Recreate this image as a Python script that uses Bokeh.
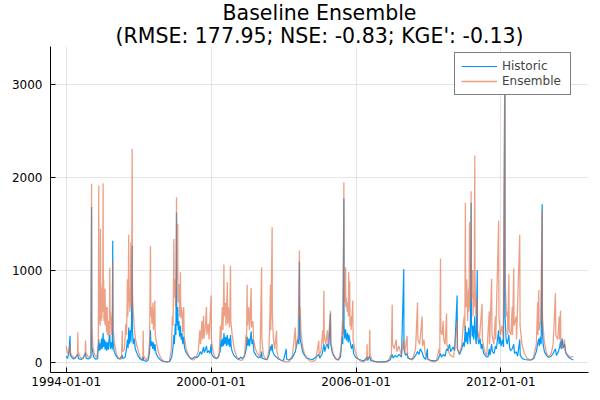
import pandas as pd

from bokeh.plotting import figure
from bokeh.models import FixedTicker, DatetimeTickFormatter, Legend, LegendItem, Range1d, Title
from bokeh.embed import file_html
from bokeh.resources import INLINE


# Streamflow (date, value), vertices at peaks and troughs
historic = [
    ("1994-01-01", 70), ("1994-01-20", 45), ("1994-02-10", 110), ("1994-02-28", 290), ("1994-03-04", 80),
    ("1994-03-25", 60), ("1994-04-20", 40), ("1994-05-20", 55), ("1994-06-25", 90), ("1994-07-05", 45),
    ("1994-08-15", 35), ("1994-09-15", 50), ("1994-10-20", 110), ("1994-10-28", 50), ("1994-12-01", 40),
    ("1995-01-10", 60), ("1995-01-19", 1680), ("1995-01-22", 180), ("1995-02-15", 70), ("1995-03-20", 40),
    ("1995-04-20", 45), ("1995-05-08", 250), ("1995-05-15", 130), ("1995-05-28", 210), ("1995-06-05", 140),
    ("1995-06-18", 260), ("1995-06-28", 150), ("1995-07-13", 320), ("1995-07-20", 170), ("1995-08-02", 250),
    ("1995-08-12", 140), ("1995-08-25", 230), ("1995-09-05", 130), ("1995-09-18", 220), ("1995-09-30", 140),
    ("1995-10-10", 250), ("1995-10-22", 300), ("1995-10-30", 150), ("1995-11-15", 220), ("1995-11-28", 140),
    ("1995-12-05", 1315), ("1995-12-08", 250), ("1995-12-25", 130), ("1996-01-20", 80), ("1996-02-20", 50),
    ("1996-03-20", 40), ("1996-04-27", 80), ("1996-05-05", 45), ("1996-06-10", 60), ("1996-07-01", 150),
    ("1996-07-15", 250), ("1996-07-25", 160), ("1996-08-03", 380), ("1996-08-10", 200), ("1996-08-25", 350),
    ("1996-09-05", 220), ("1996-09-15", 450), ("1996-09-24", 1260), ("1996-09-28", 350), ("1996-10-10", 200),
    ("1996-10-25", 260), ("1996-11-10", 150), ("1996-12-01", 110), ("1996-12-25", 70), ("1997-01-25", 40),
    ("1997-03-01", 25), ("1997-03-10", 60), ("1997-03-20", 25), ("1997-04-25", 15), ("1997-05-25", 30),
    ("1997-06-15", 120), ("1997-06-28", 350), ("1997-07-05", 180), ("1997-07-20", 230), ("1997-08-01", 150),
    ("1997-08-12", 220), ("1997-08-25", 130), ("1997-09-05", 200), ("1997-09-20", 100), ("1997-10-20", 60),
    ("1997-11-25", 30), ("1998-01-10", 15), ("1998-03-01", 10), ("1998-04-15", 15), ("1998-05-15", 60),
    ("1998-06-01", 150), ("1998-06-17", 300), ("1998-06-25", 200), ("1998-07-08", 420), ("1998-07-18", 300),
    ("1998-07-27", 1620), ("1998-07-30", 550), ("1998-08-08", 400), ("1998-08-14", 600), ("1998-08-22", 350),
    ("1998-09-01", 450), ("1998-09-12", 280), ("1998-09-24", 400), ("1998-10-05", 250), ("1998-10-18", 320),
    ("1998-10-30", 200), ("1998-11-13", 280), ("1998-11-25", 160), ("1998-12-20", 110), ("1999-01-25", 70),
    ("1999-03-01", 45), ("1999-04-05", 50), ("1999-05-01", 65), ("1999-06-01", 55), ("1999-07-01", 80),
    ("1999-07-20", 120), ("1999-08-10", 90), ("1999-09-09", 170), ("1999-09-20", 110), ("1999-10-10", 150),
    ("1999-10-23", 180), ("1999-11-05", 110), ("1999-11-25", 130), ("1999-12-15", 100), ("2000-01-01", 200),
    ("2000-01-10", 90), ("2000-02-10", 60), ("2000-03-15", 45), ("2000-04-15", 60), ("2000-05-15", 120),
    ("2000-06-01", 250), ("2000-06-12", 170), ("2000-06-25", 260), ("2000-07-05", 180), ("2000-07-13", 320),
    ("2000-07-25", 200), ("2000-08-08", 280), ("2000-08-20", 180), ("2000-09-02", 300), ("2000-09-15", 190),
    ("2000-09-28", 260), ("2000-10-10", 170), ("2000-10-20", 300), ("2000-11-01", 160), ("2000-11-20", 110),
    ("2000-12-20", 70), ("2001-01-20", 50), ("2001-02-20", 35), ("2001-03-25", 60), ("2001-04-20", 45),
    ("2001-05-20", 70), ("2001-06-15", 150), ("2001-06-29", 280), ("2001-07-10", 180), ("2001-07-25", 260),
    ("2001-08-05", 180), ("2001-08-29", 340), ("2001-09-10", 200), ("2001-09-25", 250), ("2001-10-10", 120),
    ("2001-11-10", 80), ("2001-12-15", 55), ("2002-01-20", 60), ("2002-02-03", 120), ("2002-02-10", 50),
    ("2002-03-15", 40), ("2002-04-20", 35), ("2002-05-25", 80), ("2002-06-17", 180), ("2002-06-25", 130),
    ("2002-07-12", 200), ("2002-07-22", 120), ("2002-08-15", 80), ("2002-09-17", 60), ("2002-10-15", 40),
    ("2002-11-20", 30), ("2003-01-01", 25), ("2003-02-10", 150), ("2003-02-16", 40), ("2003-03-20", 30),
    ("2003-05-10", 50), ("2003-06-28", 120), ("2003-07-15", 180), ("2003-08-05", 250), ("2003-08-20", 200),
    ("2003-08-29", 1090), ("2003-09-01", 530), ("2003-09-10", 250), ("2003-09-25", 200), ("2003-10-15", 120),
    ("2003-11-15", 80), ("2003-12-20", 50), ("2004-02-01", 40), ("2004-03-15", 35), ("2004-05-01", 60),
    ("2004-06-17", 90), ("2004-07-01", 50), ("2004-08-10", 100), ("2004-09-02", 200), ("2004-09-15", 120),
    ("2004-10-05", 180), ("2004-10-25", 200), ("2004-11-10", 150), ("2004-11-25", 300), ("2004-12-10", 530),
    ("2004-12-15", 200), ("2005-01-10", 100), ("2005-02-20", 50), ("2005-04-01", 30), ("2005-05-10", 60),
    ("2005-06-05", 280), ("2005-06-15", 200), ("2005-07-01", 1770), ("2005-07-04", 380), ("2005-07-15", 260),
    ("2005-07-27", 360), ("2005-08-10", 240), ("2005-08-25", 320), ("2005-09-05", 220), ("2005-09-15", 300),
    ("2005-09-27", 250), ("2005-10-10", 200), ("2005-10-25", 150), ("2005-11-13", 200), ("2005-11-25", 100),
    ("2005-12-25", 60), ("2006-02-01", 40), ("2006-03-15", 30), ("2006-05-01", 20), ("2006-06-17", 60),
    ("2006-06-25", 25), ("2006-07-27", 70), ("2006-08-10", 25), ("2006-10-01", 15), ("2006-12-01", 10),
    ("2007-02-01", 10), ("2007-04-01", 15), ("2007-06-01", 30), ("2007-07-02", 90), ("2007-07-15", 50),
    ("2007-08-15", 80), ("2007-09-10", 60), ("2007-10-15", 90), ("2007-11-20", 60), ("2007-12-24", 1010),
    ("2007-12-27", 150), ("2008-01-20", 80), ("2008-02-13", 100), ("2008-02-25", 50), ("2008-04-01", 40),
    ("2008-05-15", 45), ("2008-06-20", 80), ("2008-07-19", 120), ("2008-08-10", 90), ("2008-09-01", 150),
    ("2008-09-27", 110), ("2008-10-20", 60), ("2008-11-20", 35), ("2008-12-15", 150), ("2008-12-20", 40),
    ("2009-02-01", 25), ("2009-04-01", 20), ("2009-05-20", 30), ("2009-07-02", 100), ("2009-07-15", 60),
    ("2009-08-15", 90), ("2009-09-10", 70), ("2009-10-01", 150), ("2009-10-20", 130), ("2009-11-15", 200),
    ("2009-12-01", 120), ("2010-01-10", 170), ("2010-02-01", 130), ("2010-03-10", 725), ("2010-03-14", 150),
    ("2010-04-15", 90), ("2010-05-20", 150), ("2010-06-10", 220), ("2010-06-25", 170), ("2010-07-13", 400),
    ("2010-07-20", 220), ("2010-08-05", 330), ("2010-08-15", 200), ("2010-09-01", 380), ("2010-09-13", 300),
    ("2010-09-25", 200), ("2010-10-08", 1725), ("2010-10-12", 450), ("2010-10-25", 280), ("2010-11-05", 400),
    ("2010-11-15", 250), ("2010-12-02", 500), ("2010-12-12", 270), ("2010-12-25", 200), ("2011-01-08", 1000),
    ("2011-01-12", 300), ("2011-02-01", 200), ("2011-02-20", 260), ("2011-03-10", 150), ("2011-03-22", 200),
    ("2011-04-15", 100), ("2011-05-20", 70), ("2011-06-20", 60), ("2011-07-09", 150), ("2011-07-20", 80),
    ("2011-08-14", 200), ("2011-08-25", 120), ("2011-09-20", 100), ("2011-10-10", 180), ("2011-10-25", 150),
    ("2011-11-10", 250), ("2011-11-28", 350), ("2011-12-05", 200), ("2011-12-20", 280), ("2012-01-05", 180),
    ("2012-01-25", 250), ("2012-02-10", 170), ("2012-03-01", 3310), ("2012-03-04", 500), ("2012-03-20", 250),
    ("2012-04-05", 200), ("2012-04-20", 260), ("2012-05-01", 300), ("2012-05-10", 170), ("2012-05-25", 130),
    ("2012-06-20", 150), ("2012-07-13", 200), ("2012-07-25", 100), ("2012-08-20", 120), ("2012-09-10", 70),
    ("2012-10-12", 250), ("2012-10-20", 80), ("2012-11-20", 45), ("2013-01-01", 35), ("2013-02-15", 30),
    ("2013-04-01", 30), ("2013-05-15", 50), ("2013-06-20", 120), ("2013-07-10", 200), ("2013-07-27", 260),
    ("2013-08-05", 180), ("2013-08-20", 280), ("2013-09-01", 200), ("2013-09-16", 1710), ("2013-09-19", 350),
    ("2013-10-01", 200), ("2013-10-20", 120), ("2013-11-20", 80), ("2013-12-20", 60), ("2014-02-01", 70),
    ("2014-03-01", 100), ("2014-04-05", 150), ("2014-04-20", 80), ("2014-05-20", 120), ("2014-06-10", 180),
    ("2014-06-21", 230), ("2014-07-01", 150), ("2014-07-15", 260), ("2014-08-01", 160), ("2014-08-20", 200),
    ("2014-09-10", 100), ("2014-10-20", 60), ("2014-12-01", 40), ("2014-12-31", 30),
]

ensemble = [
    ("1994-01-01", 180), ("1994-01-15", 120), ("1994-02-05", 90), ("1994-02-27", 200), ("1994-03-05", 110),
    ("1994-04-01", 70), ("1994-05-10", 50), ("1994-06-20", 90), ("1994-06-25", 330), ("1994-07-01", 120),
    ("1994-08-01", 60), ("1994-09-01", 45), ("1994-10-15", 90), ("1994-10-20", 240), ("1994-10-28", 100),
    ("1994-12-01", 60), ("1995-01-10", 80), ("1995-01-19", 1930), ("1995-01-23", 400), ("1995-02-10", 160),
    ("1995-03-10", 80), ("1995-04-10", 60), ("1995-05-01", 200), ("1995-05-08", 1910), ("1995-05-11", 700),
    ("1995-05-15", 900), ("1995-05-18", 420), ("1995-05-25", 650), ("1995-05-29", 400), ("1995-06-03", 1445),
    ("1995-06-06", 600), ("1995-06-10", 850), ("1995-06-14", 450), ("1995-06-20", 700), ("1995-06-25", 480),
    ("1995-07-01", 800), ("1995-07-05", 550), ("1995-07-13", 1935), ("1995-07-16", 700), ("1995-07-21", 900),
    ("1995-07-26", 450), ("1995-08-02", 650), ("1995-08-08", 420), ("1995-08-12", 800), ("1995-08-16", 400),
    ("1995-08-24", 600), ("1995-09-01", 550), ("1995-09-06", 330), ("1995-09-12", 600), ("1995-09-18", 300),
    ("1995-09-25", 450), ("1995-10-01", 280), ("1995-10-08", 400), ("1995-10-14", 300), ("1995-10-22", 1025),
    ("1995-10-26", 420), ("1995-11-02", 550), ("1995-11-10", 300), ("1995-11-18", 450), ("1995-11-25", 500),
    ("1995-11-30", 350), ("1995-12-05", 1100), ("1995-12-09", 380), ("1995-12-20", 300), ("1996-01-01", 200),
    ("1996-02-01", 90), ("1996-03-01", 50), ("1996-04-15", 40), ("1996-04-27", 345), ("1996-05-03", 120),
    ("1996-06-01", 150), ("1996-06-20", 420), ("1996-07-01", 300), ("1996-07-08", 550), ("1996-07-15", 900),
    ("1996-07-20", 500), ("1996-07-27", 700), ("1996-08-03", 1380), ("1996-08-08", 650), ("1996-08-14", 800),
    ("1996-08-20", 550), ("1996-08-28", 700), ("1996-09-05", 1300), ("1996-09-10", 600), ("1996-09-16", 750),
    ("1996-09-24", 2305), ("1996-09-28", 800), ("1996-10-04", 650), ("1996-10-10", 550), ("1996-10-18", 480),
    ("1996-10-25", 380), ("1996-11-15", 250), ("1996-12-15", 150), ("1997-01-20", 70), ("1997-02-20", 40),
    ("1997-03-05", 60), ("1997-03-10", 345), ("1997-03-15", 80), ("1997-04-20", 30), ("1997-05-25", 60),
    ("1997-06-15", 250), ("1997-06-28", 1255), ("1997-07-03", 500), ("1997-07-12", 600), ("1997-07-20", 420),
    ("1997-07-28", 520), ("1997-08-05", 650), ("1997-08-12", 350), ("1997-08-22", 450), ("1997-09-02", 670),
    ("1997-09-08", 300), ("1997-10-01", 200), ("1997-11-01", 100), ("1997-12-10", 40), ("1998-01-20", 15),
    ("1998-03-01", 10), ("1998-04-10", 15), ("1998-05-10", 150), ("1998-05-25", 500), ("1998-06-05", 400),
    ("1998-06-17", 1335), ("1998-06-22", 700), ("1998-06-28", 850), ("1998-07-05", 900), ("1998-07-12", 600),
    ("1998-07-20", 800), ("1998-07-27", 1785), ("1998-07-31", 900), ("1998-08-06", 1000), ("1998-08-14", 1500),
    ("1998-08-18", 700), ("1998-08-26", 650), ("1998-09-05", 850), ("1998-09-12", 500), ("1998-09-18", 700),
    ("1998-09-24", 975), ("1998-09-30", 480), ("1998-10-08", 600), ("1998-10-20", 550), ("1998-10-28", 330),
    ("1998-11-05", 450), ("1998-11-13", 600), ("1998-11-20", 280), ("1998-12-20", 150), ("1999-01-25", 80),
    ("1999-03-01", 40), ("1999-04-10", 30), ("1999-05-20", 60), ("1999-06-20", 120), ("1999-07-15", 350),
    ("1999-07-25", 200), ("1999-08-15", 450), ("1999-08-22", 250), ("1999-09-09", 505), ("1999-09-15", 260),
    ("1999-10-05", 380), ("1999-10-23", 600), ("1999-10-28", 300), ("1999-11-20", 420), ("1999-12-01", 250),
    ("2000-01-01", 725), ("2000-01-06", 250), ("2000-02-01", 120), ("2000-03-01", 60), ("2000-04-01", 40),
    ("2000-05-01", 80), ("2000-05-20", 400), ("2000-06-01", 250), ("2000-06-12", 500), ("2000-06-20", 600),
    ("2000-06-28", 350), ("2000-07-06", 550), ("2000-07-13", 1060), ("2000-07-18", 500), ("2000-07-26", 600),
    ("2000-08-05", 650), ("2000-08-12", 400), ("2000-08-22", 550), ("2000-09-02", 870), ("2000-09-08", 420),
    ("2000-09-16", 600), ("2000-09-25", 550), ("2000-10-05", 380), ("2000-10-12", 600), ("2000-10-20", 1045),
    ("2000-10-25", 450), ("2000-11-15", 300), ("2000-12-15", 150), ("2001-01-20", 70), ("2001-02-20", 40),
    ("2001-03-20", 25), ("2001-04-20", 30), ("2001-05-20", 80), ("2001-06-10", 300), ("2001-06-20", 200),
    ("2001-06-29", 840), ("2001-07-04", 400), ("2001-07-14", 500), ("2001-07-25", 600), ("2001-08-02", 350),
    ("2001-08-14", 500), ("2001-08-29", 805), ("2001-09-03", 380), ("2001-09-25", 450), ("2001-10-05", 250),
    ("2001-11-01", 150), ("2001-12-01", 100), ("2002-01-10", 60), ("2002-02-03", 1030), ("2002-02-07", 250),
    ("2002-03-01", 90), ("2002-04-01", 40), ("2002-05-01", 30), ("2002-05-25", 150), ("2002-06-05", 400),
    ("2002-06-17", 840), ("2002-06-22", 350), ("2002-07-12", 1460), ("2002-07-16", 500), ("2002-08-01", 250),
    ("2002-08-20", 150), ("2002-09-17", 345), ("2002-09-22", 120), ("2002-10-20", 50), ("2002-11-20", 25),
    ("2003-01-01", 15), ("2003-02-15", 10), ("2003-04-01", 15), ("2003-05-15", 80), ("2003-06-28", 380),
    ("2003-07-05", 150), ("2003-08-10", 300), ("2003-08-29", 1210), ("2003-09-03", 500), ("2003-09-10", 600),
    ("2003-09-20", 350), ("2003-10-10", 200), ("2003-11-10", 100), ("2003-12-20", 50), ("2004-02-01", 20),
    ("2004-03-20", 15), ("2004-05-01", 30), ("2004-06-17", 237), ("2004-06-22", 80), ("2004-07-20", 120),
    ("2004-08-15", 350), ("2004-08-25", 200), ("2004-09-02", 777), ("2004-09-07", 300), ("2004-10-01", 200),
    ("2004-10-25", 350), ("2004-11-05", 180), ("2004-12-10", 560), ("2004-12-15", 220), ("2005-01-20", 100),
    ("2005-03-01", 40), ("2005-04-15", 30), ("2005-05-20", 150), ("2005-06-10", 450), ("2005-06-20", 300),
    ("2005-07-01", 1945), ("2005-07-05", 800), ("2005-07-12", 650), ("2005-07-19", 750), ("2005-07-27", 1030),
    ("2005-08-01", 600), ("2005-08-08", 700), ("2005-08-20", 550), ("2005-08-30", 650), ("2005-09-06", 500),
    ("2005-09-13", 975), ("2005-09-17", 500), ("2005-09-27", 880), ("2005-10-02", 400), ("2005-10-10", 500),
    ("2005-10-20", 350), ("2005-11-13", 670), ("2005-11-18", 250), ("2005-12-20", 120), ("2006-01-25", 50),
    ("2006-03-01", 20), ("2006-04-15", 10), ("2006-06-10", 30), ("2006-06-17", 200), ("2006-06-22", 40),
    ("2006-07-20", 60), ("2006-07-27", 355), ("2006-08-02", 80), ("2006-09-01", 30), ("2006-11-01", 10),
    ("2007-01-01", 5), ("2007-03-01", 5), ("2007-05-01", 15), ("2007-06-20", 100), ("2007-07-02", 625),
    ("2007-07-07", 200), ("2007-08-01", 150), ("2007-09-01", 250), ("2007-09-10", 120), ("2007-10-15", 180),
    ("2007-11-15", 80), ("2007-12-24", 250), ("2008-01-05", 100), ("2008-02-13", 290), ("2008-02-18", 80),
    ("2008-03-20", 40), ("2008-05-01", 30), ("2008-06-20", 150), ("2008-07-19", 650), ("2008-07-24", 250),
    ("2008-08-20", 200), ("2008-09-27", 500), ("2008-10-02", 180), ("2008-10-25", 250), ("2008-11-10", 100),
    ("2008-12-20", 40), ("2009-02-01", 20), ("2009-03-20", 10), ("2009-05-01", 20), ("2009-06-10", 150),
    ("2009-06-20", 80), ("2009-07-02", 1125), ("2009-07-06", 350), ("2009-07-25", 300), ("2009-08-10", 450),
    ("2009-08-20", 250), ("2009-09-10", 200), ("2009-10-01", 530), ("2009-10-06", 200), ("2009-11-01", 120),
    ("2009-12-01", 80), ("2010-01-15", 60), ("2010-03-10", 450), ("2010-03-15", 150), ("2010-04-20", 100),
    ("2010-05-20", 200), ("2010-06-10", 400), ("2010-06-25", 500), ("2010-07-05", 350), ("2010-07-13", 1725),
    ("2010-07-17", 700), ("2010-07-26", 600), ("2010-08-03", 900), ("2010-08-10", 700), ("2010-08-15", 450),
    ("2010-08-23", 650), ("2010-09-01", 800), ("2010-09-06", 550), ("2010-09-13", 1515), ("2010-09-17", 600),
    ("2010-09-26", 900), ("2010-10-02", 650), ("2010-10-08", 1850), ("2010-10-12", 800), ("2010-10-20", 700),
    ("2010-11-01", 1000), ("2010-11-06", 500), ("2010-11-15", 750), ("2010-11-24", 600), ("2010-12-02", 2235),
    ("2010-12-06", 900), ("2010-12-20", 500), ("2011-01-08", 700), ("2011-01-12", 350), ("2011-02-10", 250),
    ("2011-03-22", 635), ("2011-03-27", 250), ("2011-04-30", 120), ("2011-06-01", 80), ("2011-07-09", 555),
    ("2011-07-14", 200), ("2011-08-14", 905), ("2011-08-19", 300), ("2011-09-15", 200), ("2011-10-10", 500),
    ("2011-10-15", 250), ("2011-11-28", 1530), ("2011-12-02", 500), ("2011-12-25", 300), ("2012-01-20", 400),
    ("2012-02-05", 250), ("2012-03-01", 3250), ("2012-03-05", 900), ("2012-03-25", 500), ("2012-04-10", 550),
    ("2012-04-15", 300), ("2012-05-01", 955), ("2012-05-06", 350), ("2012-06-01", 300), ("2012-06-20", 600),
    ("2012-06-25", 300), ("2012-07-13", 1020), ("2012-07-18", 400), ("2012-08-20", 500), ("2012-08-25", 250),
    ("2012-10-12", 1380), ("2012-10-17", 400), ("2012-11-15", 200), ("2012-12-20", 100), ("2013-02-01", 50),
    ("2013-03-15", 30), ("2013-05-01", 40), ("2013-06-20", 200), ("2013-07-10", 650), ("2013-07-15", 300),
    ("2013-07-27", 785), ("2013-08-01", 350), ("2013-08-25", 450), ("2013-09-16", 1650), ("2013-09-20", 500),
    ("2013-10-15", 250), ("2013-11-15", 120), ("2013-12-20", 60), ("2014-02-01", 100), ("2014-03-01", 200),
    ("2014-04-05", 750), ("2014-04-10", 300), ("2014-05-10", 250), ("2014-06-01", 500), ("2014-06-08", 250),
    ("2014-06-21", 560), ("2014-06-26", 200), ("2014-07-20", 150), ("2014-08-20", 250), ("2014-09-01", 120),
    ("2014-10-15", 80), ("2014-11-20", 60), ("2014-12-31", 70),
]

x_ticks = ["1994-01-01", "2000-01-01", "2006-01-01", "2012-01-01"]
y_ticks = [0, 1000, 2000, 3000]

title_lines = ["Baseline Ensemble", "(RMSE: 177.95; NSE: -0.83; KGE': -0.13)"]

FONT = "DejaVu Sans"

hist_df = pd.DataFrame(historic, columns=["date", "q"])
hist_df["date"] = pd.to_datetime(hist_df["date"])
ens_df = pd.DataFrame(ensemble, columns=["date", "q"])
ens_df["date"] = pd.to_datetime(ens_df["date"])

p = figure(
    width=600, height=400,
    x_axis_type="datetime",
    x_range=Range1d(pd.Timestamp("1993-05-08"), pd.Timestamp("2015-08-18")),
    y_range=Range1d(-105, 3410),
    output_backend="svg",
    toolbar_location=None,
    title=None,
    min_border_left=50, min_border_right=12, min_border_bottom=28, min_border_top=0,
)

# two centred title lines, the later one added sits higher
for line in reversed(title_lines):
    p.add_layout(Title(text=line, align="center", text_font=FONT, text_font_size="20.5px",
                       text_font_style="normal", text_color="black",
                       standoff=-3, offset=0), "above")

r_hist = p.line(hist_df["date"], hist_df["q"], line_color="#009AFA", line_width=1.2)
r_ens = p.line(ens_df["date"], ens_df["q"], line_color="#E26F46", line_width=1.3, line_alpha=0.65)

# axes: only left and bottom, ticks pointing inwards
p.xaxis.ticker = FixedTicker(ticks=[pd.Timestamp(t).value / 1e6 for t in x_ticks])
p.xaxis.formatter = DatetimeTickFormatter(years="%Y-%m-%d", months="%Y-%m-%d", days="%Y-%m-%d")
p.yaxis.ticker = FixedTicker(ticks=y_ticks)

for ax in (p.xaxis, p.yaxis):
    ax.major_tick_in = 5
    ax.major_tick_out = 0
    ax.minor_tick_line_color = None
    ax.axis_line_color = "black"
    ax.major_tick_line_color = "black"
    ax.major_label_text_font = FONT
    ax.major_label_text_font_size = "12px"
    ax.major_label_text_color = "black"
p.yaxis.major_label_standoff = 8
p.xaxis.major_label_standoff = 4

p.grid.grid_line_color = "black"
p.grid.grid_line_alpha = 0.1
p.outline_line_color = None
p.background_fill_color = "white"
p.border_fill_color = "white"

legend = Legend(
    items=[LegendItem(label="Historic", renderers=[r_hist]),
           LegendItem(label="Ensemble", renderers=[r_ens])],
    location=(404, 277),
    label_text_font=FONT, label_text_font_size="12px",
    glyph_width=36, glyph_height=12, label_height=12, label_width=62, label_standoff=5,
    spacing=1, padding=6, margin=0,
    border_line_color="black", border_line_width=1,
    background_fill_color="white", background_fill_alpha=1.0,
)
p.add_layout(legend)

open("out.html", "w").write(file_html(p, INLINE))
